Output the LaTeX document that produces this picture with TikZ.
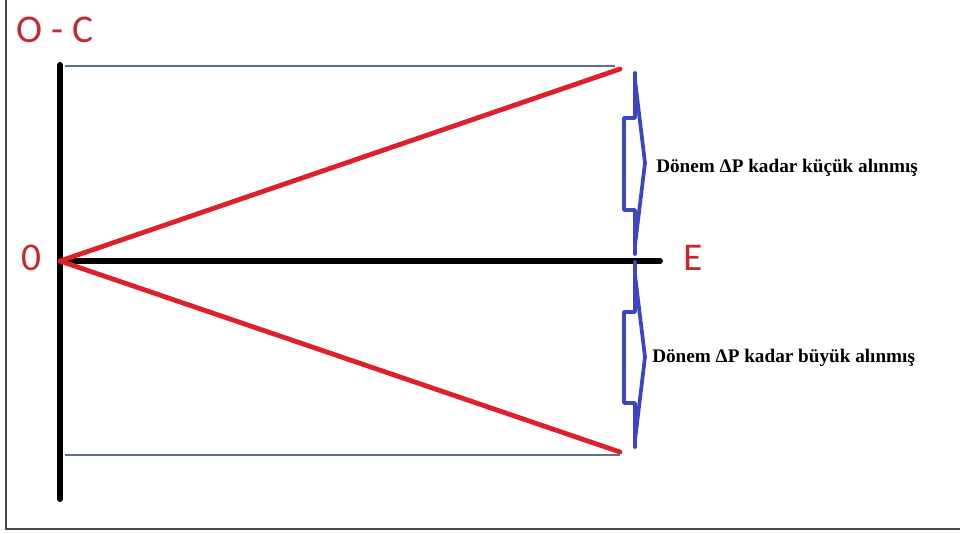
\documentclass[tikz,border=0pt]{standalone}
\usepackage{fontspec}
\setmainfont{Liberation Serif}
\newfontfamily\labelfont{Carlito}
\usetikzlibrary{positioning}

\definecolor{axisred}{RGB}{222,32,42}
\definecolor{labelred}{RGB}{200,40,50}
\definecolor{bracketblue}{RGB}{60,70,195}
\definecolor{guidegray}{RGB}{95,110,145}
\definecolor{framegray}{RGB}{70,70,70}

\begin{document}
\begin{tikzpicture}[x=0.75pt, y=-0.75pt,
	axis/.style={line width=4.5pt, line cap=round},
	ray/.style={axisred, line width=3.6pt, line cap=round},
	guide/.style={guidegray, line width=0.9pt},
	bracket/.style={bracketblue, line width=2.8pt, line join=round, line cap=round},
	axislabel/.style={labelred, font=\labelfont\fontsize{29.5}{32}\selectfont, inner sep=0pt, anchor=base west},
	note/.style={font=\bfseries\fontsize{14.4}{17}\selectfont, inner sep=0pt, anchor=base west}]

		\useasboundingbox (0,0) rectangle (960,533);
		\draw[framegray, line width=1.5pt] (6,0) -- (6,529) -- (960,529);

		\coordinate (o) at (60,261);
		\coordinate (top) at (60,65);
		\coordinate (bot) at (60,499);
		\coordinate (e) at (660,261);
		\coordinate (hi) at (620,69);
		\coordinate (lo) at (620,452);

		\node[axislabel] (oc) at (16,42) {O - C};
		\node[axislabel] (zero) at (21,270) {0};
		\node[axislabel] (elabel) at (683,270) {E};

		\draw[guide] (65,66) -- (615,66);
		\draw[guide] (65,455) -- (620,455);

		\draw[axis] (top) -- (bot);
		\draw[axis] (o) -- (e);
		\draw[ray] (o) -- (hi);
		\draw[ray] (o) -- (lo);

		\draw[bracket] (635,73) -- (635,118) -- (624,118) -- (624,210) -- (635,210) -- (635,254);
		\draw[bracket] (635,80) -- (645,163) -- (635,245);
		\draw[bracket] (635,262) -- (635,312) -- (624,312) -- (624,403) -- (635,403) -- (635,447);
		\draw[bracket] (635,275) -- (645,357) -- (635,440);

		\node[note] (small) at (656,172) {Dönem ΔP kadar küçük alınmış};
		\node[note] (large) at (652,362) {Dönem ΔP kadar büyük alınmış};
		\end{tikzpicture}
\end{document}
